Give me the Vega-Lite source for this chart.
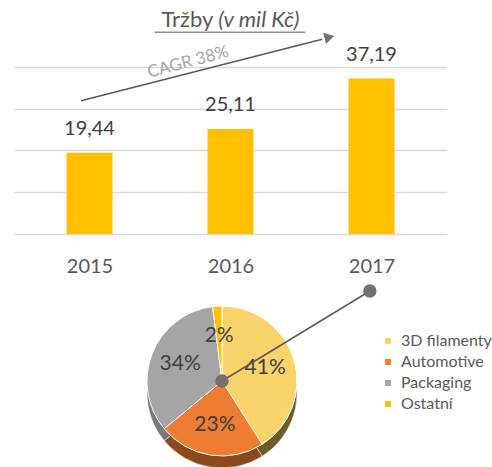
{
  "$schema": "https://vega.github.io/schema/vega-lite/v6.json",
  "padding": {"left": 14, "top": 0, "right": 0, "bottom": 0},
  "background": "white",
  "config": {
    "font": "Lato",
    "view": {"stroke": null},
    "locale": {"number": {"decimal": ",", "thousands": " ", "grouping": [3], "currency": ["", " Kč"]}},
    "concat": {"spacing": 8}
  },
  "datasets": {
    "trzby": [
      {"rok": 2015, "trzby": 19.44},
      {"rok": 2016, "trzby": 25.11},
      {"rok": 2017, "trzby": 37.19}
    ],
    "podily": [
      {"segment": "3D filamenty", "podil": 0.41, "poradi": 1},
      {"segment": "Automotive", "podil": 0.23, "poradi": 2},
      {"segment": "Packaging", "podil": 0.34, "poradi": 3},
      {"segment": "Ostatní", "podil": 0.02, "poradi": 4}
    ]
  },
  "vconcat": [
    {
      "width": 433,
      "height": 234,
      "layer": [
        {
          "data": {"name": "trzby"},
          "mark": {"type": "bar", "size": 46, "color": "#FFC000"},
          "encoding": {
            "x": {"field": "rok", "type": "quantitative", "scale": {"domain": [2014.5, 2017.5], "nice": false, "zero": false},
              "axis": {"values": [2015, 2016, 2017], "format": "d", "title": null, "grid": false, "domain": false, "ticks": false, "labelFontSize": 20, "labelColor": "#595959", "labelPadding": 22}},
            "y": {"field": "trzby", "type": "quantitative", "scale": {"domain": [0, 56], "nice": false},
              "axis": {"values": [0, 10, 20, 30, 40], "labels": false, "ticks": false, "domain": false, "title": null, "gridColor": "#D9D9D9", "gridWidth": 1.5}}
          }
        },
        {
          "data": {"name": "trzby"},
          "mark": {"type": "text", "baseline": "bottom", "dy": -14, "fontSize": 20, "color": "#404040"},
          "encoding": {
            "x": {"field": "rok", "type": "quantitative"},
            "y": {"field": "trzby", "type": "quantitative"},
            "text": {"field": "trzby", "type": "quantitative", "format": ".2f"}
          }
        },
        {
          "data": {"values": [{}]},
          "mark": {"type": "rule", "color": "#595959", "strokeWidth": 1.5},
          "encoding": {
            "x": {"datum": 2014.94, "type": "quantitative"},
            "y": {"datum": 31.9, "type": "quantitative"},
            "x2": {"datum": 2016.65},
            "y2": {"datum": 46.6}
          }
        },
        {
          "data": {"values": [{}]},
          "mark": {"type": "point", "shape": "triangle", "angle": 76, "size": 130, "filled": true, "opacity": 1, "color": "#767171"},
          "encoding": {
            "x": {"datum": 2016.69, "type": "quantitative"},
            "y": {"datum": 47.0, "type": "quantitative"}
          }
        },
        {
          "data": {"values": [{}]},
          "mark": {"type": "text", "angle": -15, "fontSize": 17, "color": "#A6A6A6", "text": "CAGR 38%"},
          "encoding": {
            "x": {"datum": 2015.70, "type": "quantitative"},
            "y": {"datum": 41.1, "type": "quantitative"}
          }
        },
        {
          "data": {"values": [{}]},
          "mark": {"type": "text", "align": "right", "baseline": "middle", "fontSize": 22, "color": "#595959", "text": "Tržby"},
          "encoding": {
            "x": {"datum": 2015.879, "type": "quantitative"},
            "y": {"datum": 51.2, "type": "quantitative"}
          }
        },
        {
          "data": {"values": [{}]},
          "mark": {"type": "text", "align": "left", "baseline": "middle", "fontSize": 22, "fontStyle": "italic", "color": "#595959", "text": "(v mil Kč)"},
          "encoding": {
            "x": {"datum": 2015.914, "type": "quantitative"},
            "y": {"datum": 51.2, "type": "quantitative"}
          }
        },
        {
          "data": {"values": [{}]},
          "mark": {"type": "rule", "color": "#595959", "strokeWidth": 1},
          "encoding": {
            "x": {"datum": 2015.463, "type": "quantitative"},
            "y": {"datum": 48.3, "type": "quantitative"},
            "x2": {"datum": 2016.53}
          }
        }
      ]
    },
    {
      "width": 416,
      "height": 180,
      "layer": [
        {
          "data": {"name": "podily"},
          "mark": {"type": "arc", "outerRadius": 75, "yOffset": 12, "stroke": "white", "strokeWidth": 0.5},
          "encoding": {
            "theta": {"field": "podil", "type": "quantitative", "stack": true},
            "order": {"field": "poradi", "type": "quantitative"},
            "color": {"field": "segment", "type": "nominal",
              "scale": {"domain": ["3D filamenty", "Automotive", "Packaging", "Ostatní"], "range": ["#6B5B2B", "#8B4A1C", "#7A7A7A", "#8F6C00"]},
              "legend": null}
          }
        },
        {
          "data": {"name": "podily"},
          "mark": {"type": "arc", "outerRadius": 75, "stroke": "white", "strokeWidth": 1},
          "encoding": {
            "theta": {"field": "podil", "type": "quantitative", "stack": true},
            "order": {"field": "poradi", "type": "quantitative"},
            "color": {"field": "segment", "type": "nominal",
              "scale": {"domain": ["3D filamenty", "Automotive", "Packaging", "Ostatní"], "range": ["#FAD46B", "#ED7D31", "#A5A5A5", "#FFC000"]},
              "legend": {"orient": "none", "legendX": 366, "legendY": 42, "title": null, "symbolType": "square", "symbolSize": 55, "labelFontSize": 16, "labelColor": "#595959", "rowPadding": 5, "labelOffset": 5}}
          }
        },
        {
          "data": {"name": "podily"},
          "mark": {"type": "text", "radius": 45, "fontSize": 21, "color": "#404040"},
          "encoding": {
            "theta": {"field": "podil", "type": "quantitative", "stack": true},
            "order": {"field": "poradi", "type": "quantitative"},
            "text": {"field": "podil", "type": "quantitative", "format": ".0%"}
          }
        },
        {
          "data": {"values": [{}]},
          "mark": {"type": "rule", "color": "#595959", "strokeWidth": 1.5},
          "encoding": {
            "x": {"datum": 0, "type": "quantitative", "scale": {"domain": [-1, 1], "nice": false}, "axis": null},
            "y": {"datum": 0, "type": "quantitative", "scale": {"domain": [-1, 1], "nice": false}, "axis": null},
            "x2": {"datum": 0.711},
            "y2": {"datum": 1}
          }
        },
        {
          "data": {"values": [{}]},
          "mark": {"type": "point", "shape": "circle", "size": 180, "filled": true, "opacity": 1, "color": "#767171"},
          "encoding": {
            "x": {"datum": 0, "type": "quantitative"},
            "y": {"datum": 0, "type": "quantitative"}
          }
        },
        {
          "data": {"values": [{}]},
          "mark": {"type": "point", "shape": "circle", "size": 180, "filled": true, "opacity": 1, "color": "#767171"},
          "encoding": {
            "x": {"datum": 0.711, "type": "quantitative"},
            "y": {"datum": 1, "type": "quantitative"}
          }
        }
      ],
      "resolve": {"scale": {"color": "independent"}}
    }
  ]
}
